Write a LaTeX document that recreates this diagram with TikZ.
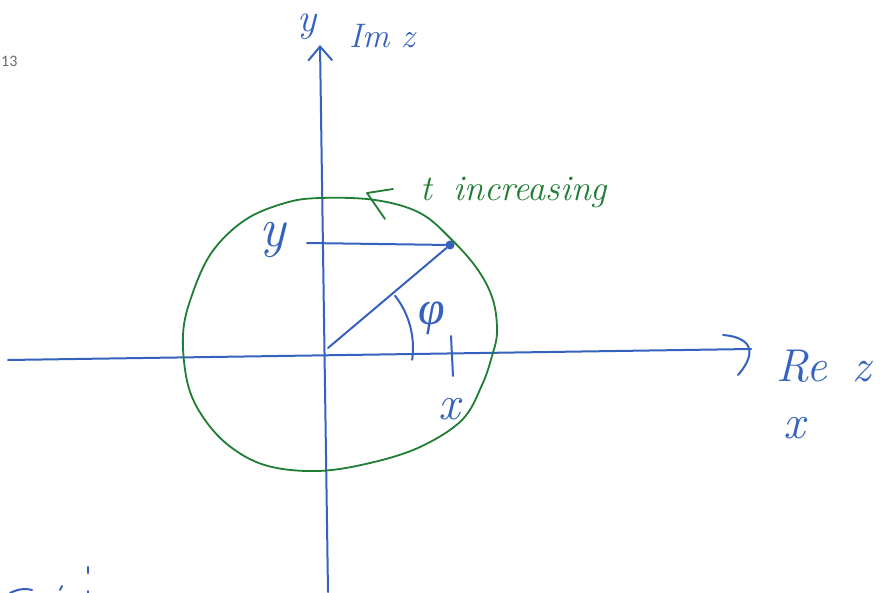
\documentclass[tikz,border=0pt]{standalone}
\usepackage{fontspec}
\newfontfamily\greekfont{Liberation Serif}
\newfontfamily\pagefont{Carlito}
\usetikzlibrary{
  arrows.meta % For arrow tips
}
\definecolor{penblue}{RGB}{52,98,190}
\definecolor{pengreen}{RGB}{32,125,52}
\definecolor{pagenum}{RGB}{110,110,110}

\begin{document}
\begin{tikzpicture}[
      x=1pt, y=-1pt, % Pixel-Koordinaten, y nach unten
      pen/.style={draw=penblue, line width=2pt, line cap=round, line join=round}, % blauer Stift
      gpen/.style={draw=pengreen, line width=1.8pt, line cap=round, line join=round}, % gruener Stift
      axis/.style={pen}, % Achsen
      lab/.style={text=penblue, inner sep=0pt, font=\fontsize{#1}{#1}\selectfont\itshape}, % Beschriftung
      glab/.style={text=pengreen, inner sep=0pt, font=\fontsize{#1}{#1}\selectfont\itshape},
      dot/.style={circle, fill=penblue, inner sep=0pt, minimum size=9pt},
    ]

    % Rahmen
    \fill[white] (0,0) rectangle (880,593);
    \useasboundingbox (0,0) rectangle (880,593);
    \clip (0,0) rectangle (880,593);

    % Koordinaten von Punkte
    \coordinate (O) at (328,348);
    \coordinate (xl) at (8,360);
    \coordinate (xr) at (751,349);
    \coordinate (yb) at (328,592);
    \coordinate (yt) at (320,45);
    \coordinate (Ys) at (307,243);
    \node[dot] (P) at (450,245) {};

    % Seitenzahl
    \node[text=pagenum, font=\pagefont\fontsize{16}{16}\selectfont, anchor=west, inner sep=0pt] (page) at (1,61) {13};

    % Achsen
    \draw[axis] (xl) -- (xr);
    \draw[axis] (723,335) .. controls (758,338) and (753,358) .. (738,375); % Pfeilspitze Re
    \draw[axis, -{Straight Barb[length=14pt, width=24pt, line width=2pt]}] (yb) -- (yt);

    % Kreis (t laeuft gegen den Uhrzeigersinn)
    \draw[gpen] plot[smooth cycle, tension=0.6] coordinates {
      (320,198) (375,200) (420,213) (452,240) (478,270) (493,300) (497,332)
      (492,356) (482,385) (462,420) (420,447) (370,463) (318,471) (268,466)
      (232,448) (205,420) (188,385) (183,335) (192,295) (212,252) (245,220) (285,203)};
    \coordinate (tip) at (367,193);
    \draw[gpen] (393,189) -- (tip) -- (385,219);

    % Zeiger und Projektion
    \draw[pen] (O) -- (P);
    \draw[pen] (Ys) -- (P);

    % Winkel phi
    \draw[pen] (O) ++(8:85) arc[start angle=8, end angle=-38, radius=85];
    % Markierung auf der x-Achse
    \coordinate (tk1) at (451,336);
    \coordinate (tk2) at (453,376);
    \draw[pen] (tk1) -- (tk2);

    % Beschriftungen
    \node[lab=40] (ylab) at (307,27) {y};
    \node[lab=34] (imz) at (382,36) {Im z};
    \node[lab=46, anchor=west] (rez) at (776,366) {Re\hspace{0.55em}z};
    \node[lab=48] (xlab) at (794,428) {x};
    \node[lab=55] (ypt) at (273,240) {y};
    \node[text=penblue, inner sep=0pt, font=\greekfont\itshape\fontsize{48}{48}\selectfont] (phi) at (432,318) {φ};
    \node[lab=48] (xpt) at (449,409) {x};
    \node[glab=36, anchor=west] (tinc) at (420,192) {t\hspace{0.6em}increasing};

    % Reste am Rand
    \draw[pen] (10,593) .. controls (18,589) and (26,588) .. (32,590);
    \draw[pen] (60,590) -- (62,586);
    \draw[pen, line width=2.4pt] (88,567) -- (88,573);
    \draw[pen] (88,591) -- (88,593);
  \end{tikzpicture}
\end{document}
